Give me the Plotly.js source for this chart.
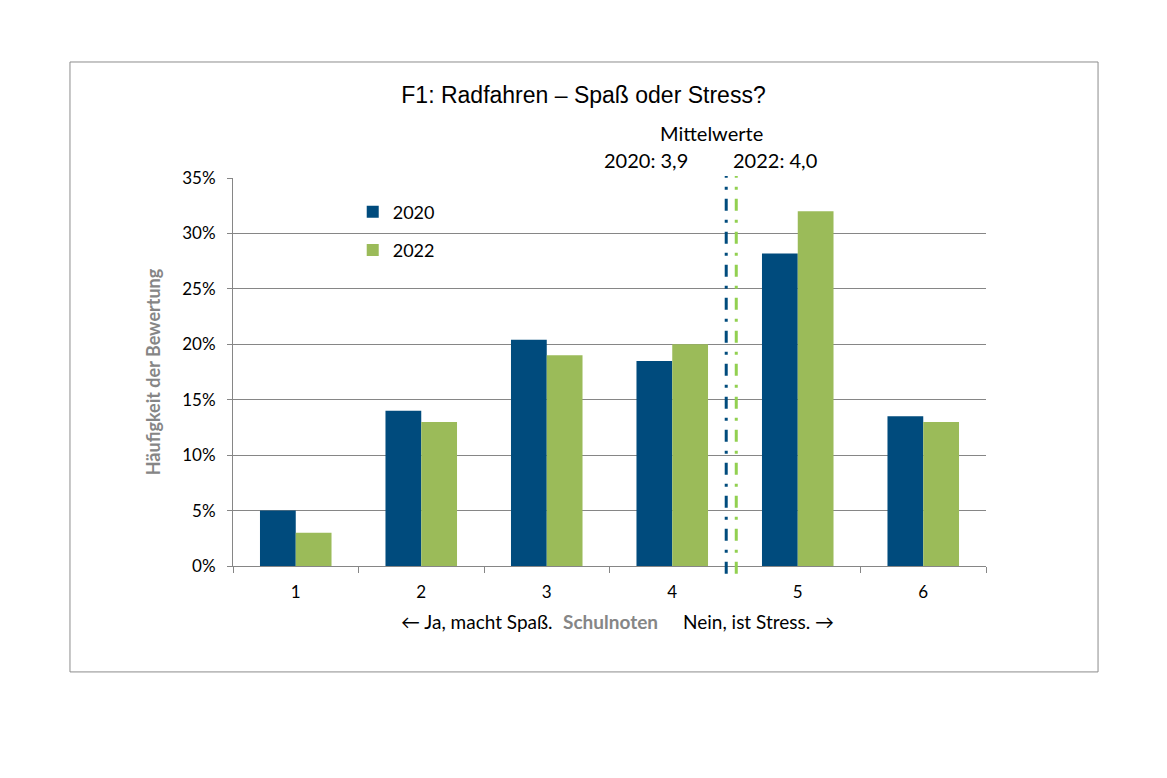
<!DOCTYPE html>
<html>
<head>
<meta charset="utf-8">
<script src="https://cdn.plot.ly/plotly-3.0.1.min.js"></script>
<style>
  body { margin: 0; background: #fff; }
  #plot { width: 1167px; height: 778px; }
</style>
</head>
<body>
<div id="plot"></div>
<script>
const noten = ["1", "2", "3", "4", "5", "6"];
const werte2020 = [0.05, 0.14, 0.204, 0.185, 0.282, 0.135];
const werte2022 = [0.03, 0.13, 0.19, 0.20, 0.32, 0.13];
// position of the mean lines on the category axis (0-based index)
const mittelPos = [3.43, 3.51];
const mittelText = ["2020: 3,9", "2022: 4,0"];

const blau = "#004b7d";
const gruen = "#9bbb59";
const gruenHell = "#92d050";
const grau = "#868686";
const font = "Lato, 'Open Sans', sans-serif";

const trace2020 = {
  x: noten,
  y: werte2020,
  name: "2020",
  legendgroup: "a",
  type: "bar",
  marker: { color: blau }
};

const trace2022 = {
  x: noten,
  y: werte2022,
  name: "2022",
  legendgroup: "b",
  type: "bar",
  marker: { color: gruen }
};

const dash = "12px,9px,3px,9px";

const shapes = [
  {
    // outer frame
    type: "rect", xref: "paper", yref: "paper",
    x0: -0.2165, x1: 1.1488, y0: -0.273, y1: 1.299,
    line: { color: "#8c8c8c", width: 1 }
  },
  {
    type: "line", xref: "x", yref: "paper",
    x0: mittelPos[0], x1: mittelPos[0], y0: -0.02, y1: 1.005,
    line: { color: blau, width: 3, dash: dash }
  },
  {
    type: "line", xref: "x", yref: "paper",
    x0: mittelPos[1], x1: mittelPos[1], y0: -0.02, y1: 1.005,
    line: { color: gruenHell, width: 3, dash: dash }
  }
];

const annotations = [
  {
    text: "Mittelwerte", xref: "x", yref: "paper",
    x: 3.315, y: 1.116, xanchor: "center", yanchor: "middle", showarrow: false,
    font: { family: font, size: 20, color: "#000" }
  },
  {
    text: mittelText[0], xref: "x", yref: "paper",
    x: 3.14, y: 1.046, xanchor: "right", yanchor: "middle", showarrow: false,
    font: { family: font, size: 20, color: "#000" }
  },
  {
    text: mittelText[1], xref: "x", yref: "paper",
    x: 3.47, y: 1.046, xanchor: "left", yanchor: "middle", showarrow: false,
    font: { family: font, size: 20, color: "#000" }
  },
  {
    text: "← Ja, macht Spaß.", xref: "paper", yref: "paper",
    x: 0.4276, y: -0.144, xanchor: "right", yanchor: "middle", showarrow: false,
    font: { family: font, size: 19, color: "#000" }
  },
  {
    text: "<b>Schulnoten</b>", xref: "paper", yref: "paper",
    x: 0.5007, y: -0.144, xanchor: "center", yanchor: "middle", showarrow: false,
    font: { family: font, size: 19, color: grau }
  },
  {
    text: "Nein, ist Stress. →", xref: "paper", yref: "paper",
    x: 0.5943, y: -0.144, xanchor: "left", yanchor: "middle", showarrow: false,
    font: { family: font, size: 19, color: "#000" }
  }
];

const layout = {
  width: 1167,
  height: 778,
  margin: { l: 233, r: 181, t: 178, b: 212 },
  paper_bgcolor: "#fff",
  plot_bgcolor: "#fff",
  title: {
    text: "F1: Radfahren – Spaß oder Stress?",
    x: 0.5, xanchor: "center", y: 0.878, yanchor: "middle",
    font: { family: "'Liberation Sans', Arial, sans-serif", size: 23, color: "#000" }
  },
  barmode: "group",
  bargap: 0.43,
  bargroupgap: 0,
  xaxis: {
    type: "category",
    range: [-0.5, 5.5],
    tickson: "boundaries",
    ticks: "outside",
    ticklen: 6,
    tickcolor: grau,
    ticklabelstandoff: 11,
    showline: true,
    linecolor: grau,
    linewidth: 1,
    showgrid: false,
    tickfont: { family: font, size: 17, color: "#000" }
  },
  yaxis: {
    range: [0, 0.35],
    dtick: 0.05,
    tickformat: ".0%",
    ticks: "outside",
    ticklen: 5,
    tickcolor: grau,
    ticklabelstandoff: 8,
    showline: true,
    linecolor: grau,
    linewidth: 1,
    gridcolor: grau,
    gridwidth: 1,
    zeroline: false,
    tickfont: { family: font, size: 17, color: "#000" },
    title: {
      text: "<b>Häufigkeit der Bewertung</b>",
      standoff: 16,
      font: { family: font, size: 18, color: grau }
    }
  },
  legend: {
    x: 0.159, y: 0.96, xanchor: "left", yanchor: "top",
    bgcolor: "rgba(0,0,0,0)",
    traceorder: "grouped",
    tracegroupgap: 12,
    itemwidth: 30,
    font: { family: font, size: 18, color: "#000" }
  },
  shapes: shapes,
  annotations: annotations,
  showlegend: true
};

Plotly.newPlot("plot", [trace2020, trace2022], layout, { displayModeBar: false });
</script>
</body>
</html>
